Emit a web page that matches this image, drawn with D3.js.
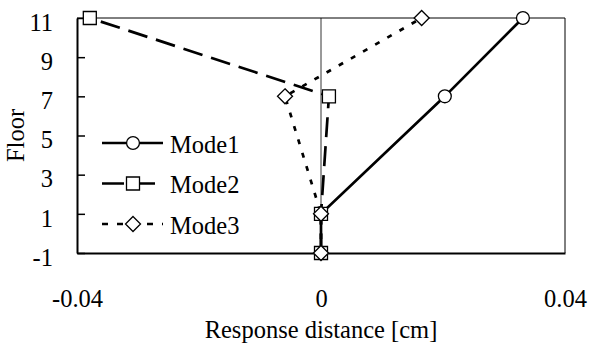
<!DOCTYPE html>
<html>
<head>
<meta charset="utf-8">
<script src="https://cdn.jsdelivr.net/npm/d3@7"></script>
<style>
  body { margin: 0; background: #fff; }
  svg text { font-family: "Liberation Serif", serif !important; font-size: 24.5px; fill: #000; }
</style>
</head>
<body>
<div class="canvas"></div>
<script>
// data
const floors = [-1, 1, 7, 11];
const mode1 = [0, 0, 0.0203, 0.0331];
const mode2 = [0, 0, 0.0013, -0.0379];
const mode3 = [0, 0, -0.0059, 0.0165];
const xTicks = [-0.04, 0, 0.04];
const yTicks = [-1, 1, 3, 5, 7, 9, 11];
const seriesNames = ["Mode1", "Mode2", "Mode3"];

// margins and dimensions
const w = 592;
const h = 347;
const margin = { top: 18, right: 27, bottom: 94, left: 77 };
const graphWidth = w - margin.left - margin.right;
const graphHeight = h - margin.top - margin.bottom;

const svg = d3.select(".canvas").append("svg").attr("width", w).attr("height", h);
const graph = svg.append("g").attr("transform", `translate(${margin.left}, ${margin.top})`);

const x = d3.scaleLinear().domain([-0.04, 0.04]).range([0, graphWidth]);
const y = d3.scaleLinear().domain([-1, 11]).range([graphHeight, 0]);

// plain hyphen minus like the original
const fmt = (d) => (d === 0 ? "0" : String(d));

// frame: thin top/right, thick left/bottom
graph.append("line").attr("x1", 0).attr("x2", graphWidth).attr("y1", 0).attr("y2", 0)
  .attr("stroke", "#000").attr("stroke-width", 1);
graph.append("line").attr("x1", graphWidth).attr("x2", graphWidth).attr("y1", 0).attr("y2", graphHeight)
  .attr("stroke", "#000").attr("stroke-width", 1);
// zero line
graph.append("line").attr("x1", x(0)).attr("x2", x(0)).attr("y1", 0).attr("y2", graphHeight)
  .attr("stroke", "#000").attr("stroke-width", 0.8);

// y axis, ticks inward
const yAxis = graph.append("g")
  .call(d3.axisLeft(y).tickValues(yTicks).tickSizeInner(-8).tickSizeOuter(0).tickPadding(24).tickFormat(fmt));
yAxis.attr("font-family", null).attr("font-size", null);
yAxis.select(".domain").attr("stroke-width", 2);
yAxis.selectAll(".tick line").attr("stroke-width", 1.5);
yAxis.selectAll("text").attr("dy", "0.5em");

// x axis, no ticks
const xAxis = graph.append("g").attr("transform", `translate(0, ${graphHeight})`)
  .call(d3.axisBottom(x).tickValues(xTicks).tickSize(0).tickPadding(54).tickFormat(fmt));
xAxis.attr("font-family", null).attr("font-size", null);
xAxis.select(".domain").attr("stroke-width", 2);
xAxis.selectAll("text").attr("dy", "0");

// titles
svg.append("text").attr("x", margin.left + x(0)).attr("y", 338).attr("text-anchor", "middle")
  .text("Response distance [cm]");
svg.append("text").attr("transform", `translate(24, ${margin.top + graphHeight / 2}) rotate(-90)`)
  .attr("text-anchor", "middle").text("Floor");

const styles = [
  { vals: mode1, dash: null, shape: "circle" },
  { vals: mode2, dash: "20,9", shape: "square" },
  { vals: mode3, dash: "5,9", shape: "diamond" },
];

const symbolPath = (shape) => {
  if (shape === "square") return "M-6.5,-6.5H6.5V6.5H-6.5Z";
  if (shape === "diamond") return "M0,-7.5L7.5,0L0,7.5L-7.5,0Z";
  return d3.symbol(d3.symbolCircle, 130)();
};

const line = d3.line().x((d) => x(d[0])).y((d) => y(d[1]));

styles.forEach((s) => {
  const pts = s.vals.map((v, i) => [v, floors[i]]);
  graph.append("path").datum(pts).attr("d", line).attr("fill", "none")
    .attr("stroke", "#000").attr("stroke-width", 2.7).attr("stroke-dasharray", s.dash);
});
styles.forEach((s) => {
  const pts = s.vals.map((v, i) => [v, floors[i]]);
  graph.selectAll(null).data(pts).enter().append("path")
    .attr("d", symbolPath(s.shape))
    .attr("transform", (d) => `translate(${x(d[0])}, ${y(d[1])})`)
    .attr("fill", "#fff").attr("stroke", "#000").attr("stroke-width", 1.3);
});

// legend
const legend = svg.append("g").attr("transform", "translate(102, 143)");
styles.forEach((s, i) => {
  const g = legend.append("g").attr("transform", `translate(0, ${i * 40.5})`);
  g.append("line").attr("x1", 0).attr("x2", 61).attr("y1", 0).attr("y2", 0)
    .attr("stroke", "#000").attr("stroke-width", 2.7)
    .attr("stroke-dasharray", s.dash ? (i === 1 ? "22,9" : "6,9") : null);
  g.append("path").attr("d", symbolPath(s.shape)).attr("transform", "translate(31, 0)")
    .attr("fill", "#fff").attr("stroke", "#000").attr("stroke-width", 1.3);
  g.append("text").attr("x", 68).attr("y", 9.5).text(seriesNames[i]);
});
</script>
</body>
</html>
